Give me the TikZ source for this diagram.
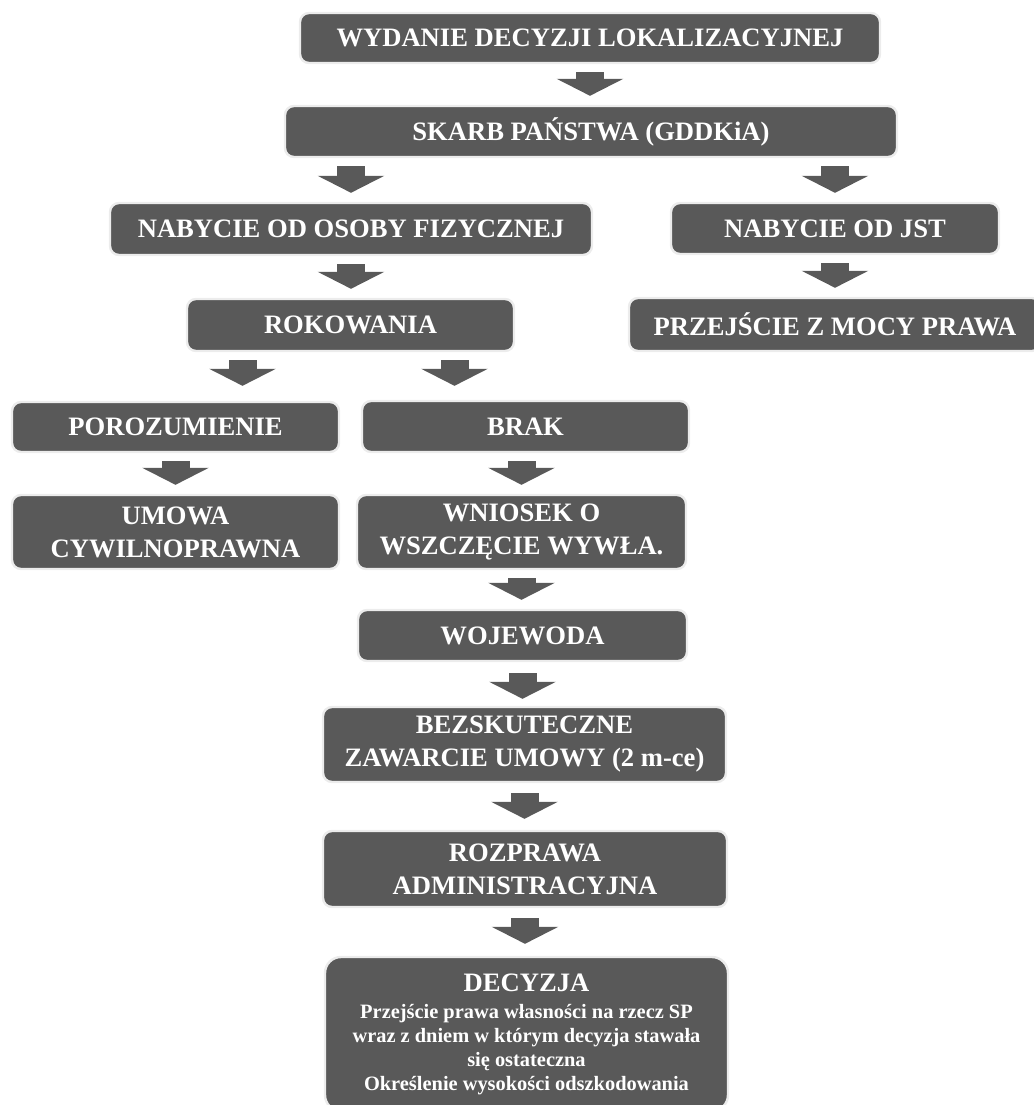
\documentclass[tikz,border=0pt]{standalone}
\usepackage{fontspec}
\setmainfont{Liberation Serif}
\usetikzlibrary{arrows.meta}
\definecolor{boxgray}{RGB}{89,89,89}
\definecolor{edgegray}{RGB}{236,236,236}
\begin{document}
\begin{tikzpicture}[x=0.5pt,y=-0.5pt,
  box/.style={draw=edgegray, line width=1.2pt, fill=boxgray, rounded corners=4.5pt,
    text=white, align=center, inner sep=0pt, font=\bfseries\fontsize{13.3}{16.5}\selectfont},
  blockarr/.style={draw=boxgray, line width=14pt, -{Triangle[length=8.5pt,width=33pt]},
    shorten <=4pt, shorten >=4.5pt}]
\clip (0,0) rectangle (1034,1105);
\node[box, minimum width=290pt, minimum height=25pt] (wyd) at (590,38)
{WYDANIE DECYZJI LOKALIZACYJNEJ};
\node[box, minimum width=306pt, minimum height=25.5pt] (skarb) at (591,131.5)
{SKARB PAŃSTWA (GDDKiA)};
\node[box, minimum width=241pt, minimum height=26pt] (fiz) at (351,229)
{NABYCIE OD OSOBY FIZYCZNEJ};
\node[box, minimum width=164pt, minimum height=25.5pt] (jst) at (835,228.5)
{NABYCIE OD JST};
\node[box, minimum width=163.5pt, minimum height=26pt] (rok) at (350.5,325)
{ROKOWANIA};
\node[box, minimum width=206pt, minimum height=26.5pt] (prz) at (835,324.5)
{PRZEJŚCIE Z MOCY PRAWA};
\node[box, minimum width=163.5pt, minimum height=25pt] (poroz) at (175.5,427)
{POROZUMIENIE};
\node[box, minimum width=163.5pt, minimum height=25.5pt] (brak) at (525.5,426.5)
{BRAK};
\node[box, minimum width=163.5pt, minimum height=37pt] (umowa) at (175.5,532)
{UMOWA\\CYWILNOPRAWNA};
\node[box, minimum width=164.5pt, minimum height=37pt] (wniosek) at (521.5,532)
{WNIOSEK O\\WSZCZĘCIE WYWŁA.};
\node[box, minimum width=164.5pt, minimum height=25.5pt] (woj) at (522.5,635.5)
{WOJEWODA};
\node[box, minimum width=201.5pt, minimum height=37.5pt] (bez) at (524.5,744.5)
{BEZSKUTECZNE\\ZAWARCIE UMOWY (2 m-ce)};
\node[box, minimum width=202pt, minimum height=38pt] (roz) at (525,869)
{ROZPRAWA\\ADMINISTRACYJNA};
\node[box, minimum width=201.5pt, minimum height=77pt, rounded corners=8pt,
  font=\bfseries\fontsize{10.2}{12}\selectfont] (dec) at (526.5,1034)
{{\fontsize{13.3}{16}\selectfont DECYZJA}\\[1.5pt]
Przejście prawa własności na rzecz SP\\
wraz z dniem w którym decyzja stawała\\
się ostateczna\\
Określenie wysokości odszkodowania};
\coordinate (rokl) at ([xshift=-54pt]rok.south);
\coordinate (rokr) at ([xshift=52pt]rok.south);
\draw[blockarr] (wyd.south) -- (wyd.south |- skarb.north);
\draw[blockarr] (skarb.south -| fiz.north) -- (fiz.north);
\draw[blockarr] (skarb.south -| jst.north) -- (jst.north);
\draw[blockarr] (fiz.south) -- (fiz.south |- rok.north);
\draw[blockarr] (jst.south) -- (prz.north);
\draw[blockarr, shorten >=7.5pt] (rokl) -- (rokl |- poroz.north);
\draw[blockarr, shorten >=7pt] (rokr) -- (rokr |- brak.north);
\draw[blockarr] (poroz.south) -- (umowa.north);
\draw[blockarr] (brak.south -| wniosek.north) -- (wniosek.north);
\draw[blockarr] (wniosek.south) -- (wniosek.south |- woj.north);
\draw[blockarr, shorten <=5.5pt, shorten >=3.5pt] (woj.south) -- (woj.south |- bez.north);
\draw[blockarr, shorten <=5pt, shorten >=5.5pt] (bez.south) -- (bez.south |- roz.north);
\draw[blockarr, shorten <=5pt, shorten >=6pt] (roz.south) -- (roz.south |- dec.north);
\end{tikzpicture}
\end{document}
